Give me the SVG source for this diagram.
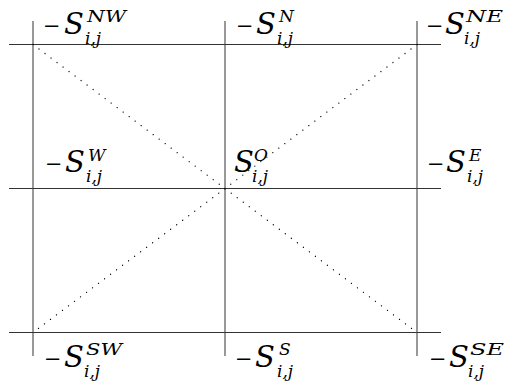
<svg xmlns="http://www.w3.org/2000/svg" width="509" height="384" viewBox="0 0 509 384">
<style>
.g{stroke:#333;stroke-width:1;fill:none}
.d{stroke:#000;stroke-width:1.3;stroke-linecap:round;stroke-dasharray:0.01 7.5;fill:none}
text{font-family:'DejaVu Serif',serif;fill:#000}
.m{font-size:21px}
.i{font-style:italic}
.big{font-size:29px}
.sup{font-size:17px}
.sub{font-size:17px}
</style>
<rect width="509" height="384" fill="#fff"/>
<g id="connectors">
<line class="g" x1="33" y1="21" x2="33" y2="356"/>
<line class="g" x1="225" y1="21" x2="225" y2="356"/>
<line class="g" x1="417" y1="21" x2="417" y2="356"/>
<line class="g" x1="9" y1="44.5" x2="441" y2="44.5"/>
<line class="g" x1="9" y1="188.5" x2="441" y2="188.5"/>
<line class="g" x1="9" y1="332.5" x2="441" y2="332.5"/>
<line class="d" x1="33" y1="44.5" x2="417" y2="332.5"/>
<line class="d" x1="417" y1="44.5" x2="33" y2="332.5"/>
</g>
<g id="NW"><text class="m" x="43" y="33">−</text><text class="i big" x="64" y="34">S</text><text class="i sup" x="87" y="22" textLength="39" lengthAdjust="spacingAndGlyphs">NW</text><text class="i sub" x="85" y="44">i,j</text></g>
<g id="N"><text class="m" x="236" y="33">−</text><text class="i big" x="256" y="34">S</text><text class="i sup" x="279" y="22">N</text><text class="i sub" x="277" y="44">i,j</text></g>
<g id="NE"><text class="m" x="426" y="33">−</text><text class="i big" x="445" y="34">S</text><text class="i sup" x="466" y="22" textLength="37" lengthAdjust="spacingAndGlyphs">NE</text><text class="i sub" x="464" y="44">i,j</text></g>
<g id="W"><text class="m" x="45" y="171">−</text><text class="i big" x="65" y="172">S</text><text class="i sup" x="88" y="161">W</text><text class="i sub" x="86" y="182">i,j</text></g>
<g id="O"><text class="i big" x="234" y="172">S</text><text class="i sup" x="254" y="161">O</text><text class="i sub" x="252" y="182">i,j</text></g>
<g id="E"><text class="m" x="427" y="171">−</text><text class="i big" x="446" y="172">S</text><text class="i sup" x="469" y="161">E</text><text class="i sub" x="467" y="182">i,j</text></g>
<g id="SW"><text class="m" x="44" y="366">−</text><text class="i big" x="64" y="367">S</text><text class="i sup" x="86" y="355" textLength="36" lengthAdjust="spacingAndGlyphs">SW</text><text class="i sub" x="84" y="377">i,j</text></g>
<g id="S"><text class="m" x="235" y="366">−</text><text class="i big" x="255" y="367">S</text><text class="i sup" x="279" y="355">S</text><text class="i sub" x="277" y="377">i,j</text></g>
<g id="SE"><text class="m" x="429" y="366">−</text><text class="i big" x="449" y="367">S</text><text class="i sup" x="470" y="355" textLength="34" lengthAdjust="spacingAndGlyphs">SE</text><text class="i sub" x="468" y="377">i,j</text></g>
</svg>
